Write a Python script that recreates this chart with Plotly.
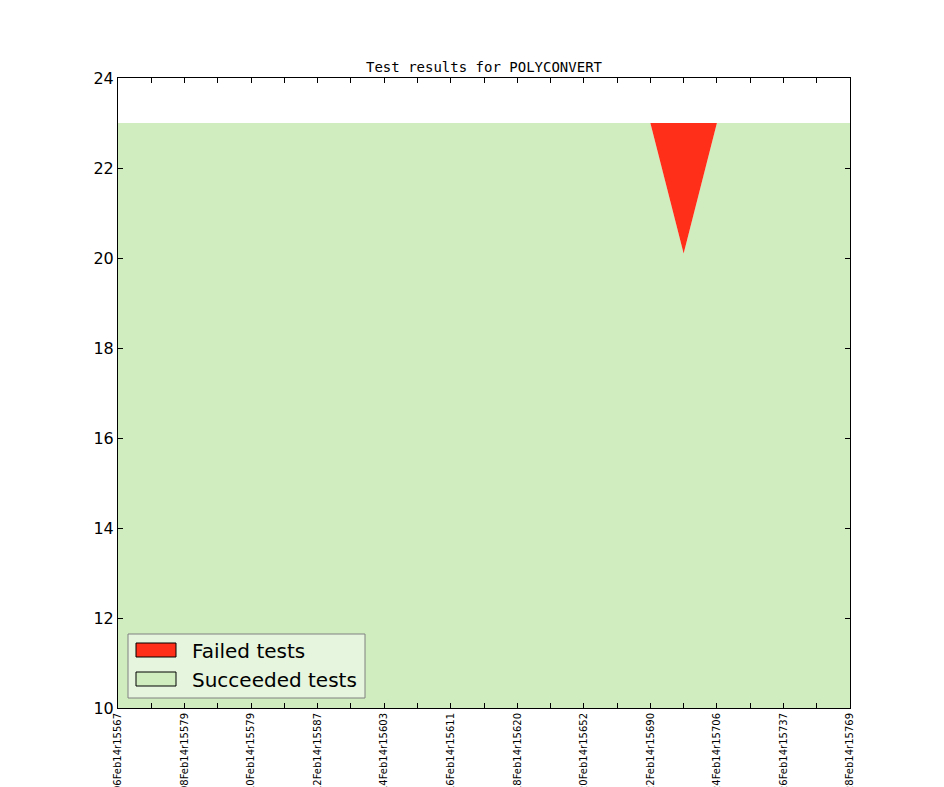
import plotly.graph_objects as go

# ---- data ----
builds = ["06Feb14r15567", "08Feb14r15579", "10Feb14r15579", "12Feb14r15587",
          "14Feb14r15603", "16Feb14r15611", "18Feb14r15620", "20Feb14r15652",
          "22Feb14r15690", "24Feb14r15706", "26Feb14r15737", "28Feb14r15769"]
run_index = list(range(23))
succeeded = [23, 23, 23, 23, 23, 23, 23, 23, 23, 23, 23, 23,
             23, 23, 23, 23, 23, 20.1, 23, 23, 23, 23, 23]
failed = [0, 0, 0, 0, 0, 0, 0, 0, 0, 0, 0, 0,
          0, 0, 0, 0, 0, 2.9, 0, 0, 0, 0, 0]
y_ticks = [10, 12, 14, 16, 18, 20, 22, 24]

total = [s + f for s, f in zip(succeeded, failed)]
tick_text = [builds[i // 2] if i % 2 == 0 else "" for i in run_index]

GREEN = "#cfedbf"
RED = "#ff2f1a"

fig = go.Figure()
fig.add_trace(go.Scatter(x=run_index, y=succeeded, mode="none", fill="tozeroy",
                         fillcolor=GREEN, name="Succeeded tests", showlegend=False,
                         hoverinfo="skip"))
fig.add_trace(go.Scatter(x=run_index, y=total, mode="none", fill="tonexty",
                         fillcolor=RED, name="Failed tests", showlegend=False,
                         hoverinfo="skip"))

fig.update_layout(
    width=944, height=787,
    margin=dict(l=118, r=94, t=78, b=79, autoexpand=False),
    paper_bgcolor="white", plot_bgcolor="white",
    title=dict(text="Test results for POLYCONVERT", x=(118 + 850) / 2 / 944,
               xanchor="center", y=1 - 67 / 787, yanchor="middle",
               font=dict(family="DejaVu Sans Mono", size=14, color="black")),
    font=dict(family="DejaVu Sans", color="black"),
)
fig.update_xaxes(range=[0, 22], tickvals=run_index, ticktext=tick_text,
                 tickangle=-90, tickfont=dict(size=10, family="DejaVu Sans"),
                 ticks="inside", ticklen=5, tickcolor="black",
                 showline=True, linecolor="black", linewidth=1, mirror="allticks",
                 showgrid=False, zeroline=False, automargin=False)
fig.update_yaxes(range=[10, 24], tickvals=y_ticks,
                 tickfont=dict(size=16, family="DejaVu Sans"),
                 ticks="inside", ticklen=5, tickcolor="black",
                 showline=True, linecolor="black", linewidth=1, mirror="allticks",
                 showgrid=False, zeroline=False, automargin=False)

# ---- legend (drawn to match the original look) ----
W, H = 732, 630
def px(x): return (x - 118) / W
def py(y): return (708 - y) / H

shapes = [
    dict(type="rect", xref="paper", yref="paper", x0=px(128), x1=px(365),
         y0=py(698), y1=py(634), fillcolor="#e6f5de",
         line=dict(color="#808080", width=1), layer="above"),
    dict(type="rect", xref="paper", yref="paper", x0=px(136), x1=px(176),
         y0=py(657), y1=py(643), fillcolor=RED,
         line=dict(color="black", width=1), layer="above"),
    dict(type="rect", xref="paper", yref="paper", x0=px(136), x1=px(176),
         y0=py(686), y1=py(672), fillcolor=GREEN,
         line=dict(color="black", width=1), layer="above"),
]
fig.update_layout(shapes=shapes)
fig.add_annotation(xref="paper", yref="paper", x=px(190), y=py(651),
                   text="Failed tests", showarrow=False, xanchor="left",
                   yanchor="middle", font=dict(size=20, family="DejaVu Sans", color="black"))
fig.add_annotation(xref="paper", yref="paper", x=px(190), y=py(680),
                   text="Succeeded tests", showarrow=False, xanchor="left",
                   yanchor="middle", font=dict(size=20, family="DejaVu Sans", color="black"))

fig.write_html("out.html", config={"displayModeBar": False},
               post_script="document.body.style.margin='0';"
                           "document.body.style.overflow='hidden';")
